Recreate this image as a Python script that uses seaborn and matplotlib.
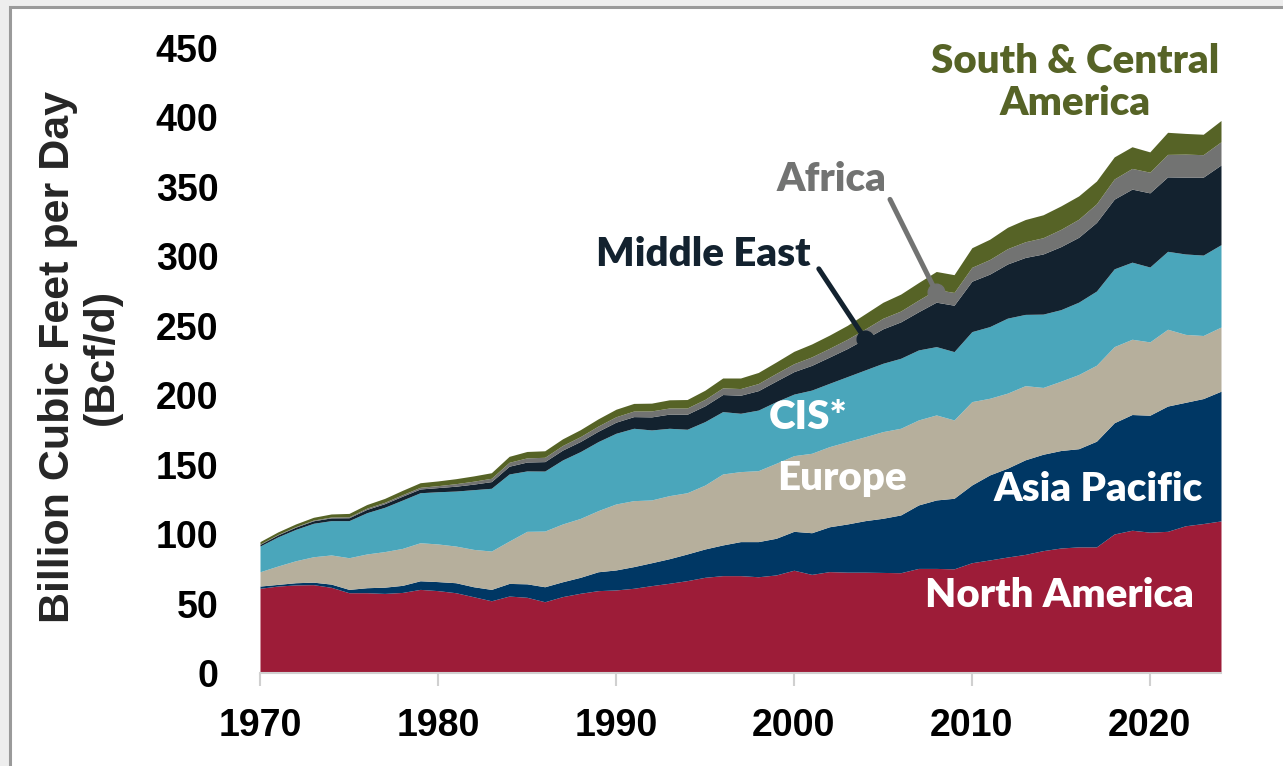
import matplotlib

matplotlib.use("Agg")
import matplotlib.pyplot as plt
from matplotlib.patches import Rectangle
import numpy as np
import pandas as pd
import seaborn as sns

# --- data (Bcf/d) ---
years = list(range(1970, 2025))

north_america = [
    61.0, 62.6, 63.4, 63.6, 61.7, 57.8, 57.8, 57.3, 58.0, 60.2,
    59.3, 57.8, 54.9, 52.0, 55.4, 54.5, 51.3, 55.0, 57.4, 59.3,
    59.8, 61.0, 62.9, 64.6, 66.5, 68.9, 70.1, 70.1, 69.3, 70.6,
    74.0, 71.0, 73.0, 72.6, 72.6, 72.4, 72.2, 75.3, 75.3, 75.0,
    79.4, 81.4, 83.5, 85.4, 88.1, 90.0, 90.8, 90.8, 100.1, 102.8,
    101.4, 102.0, 106.0, 107.6, 109.5,
]
asia_pacific = [
    1.6, 1.2, 1.6, 1.8, 2.3, 2.4, 3.6, 4.5, 5.1, 6.2,
    6.5, 7.2, 7.2, 8.2, 9.1, 9.7, 10.8, 10.7, 11.5, 13.6,
    14.4, 15.6, 16.5, 17.7, 19.2, 20.4, 22.1, 24.5, 25.3, 26.4,
    28.0, 30.0, 32.3, 34.7, 37.1, 39.0, 41.6, 45.7, 49.3, 50.8,
    56.0, 61.2, 64.0, 68.1, 69.4, 70.2, 70.7, 76.1, 80.1, 83.3,
    84.2, 90.2, 88.9, 90.0, 93.4,
]
europe = [
    10.3, 13.2, 15.8, 18.3, 21.0, 22.8, 24.3, 25.6, 26.6, 27.4,
    27.1, 26.4, 26.9, 27.6, 30.5, 37.8, 40.1, 41.6, 42.4, 44.0,
    47.5, 47.5, 45.2, 45.4, 44.1, 46.0, 51.1, 50.4, 51.1, 54.0,
    54.5, 57.2, 57.7, 59.3, 60.4, 62.4, 62.4, 61.2, 61.2, 56.4,
    60.0, 55.2, 54.0, 53.4, 48.1, 49.9, 53.4, 54.7, 54.8, 54.2,
    52.8, 55.3, 48.9, 45.4, 46.2,
]
cis = [
    18.5, 21.0, 22.6, 24.1, 24.7, 26.7, 29.7, 31.9, 34.8, 36.0,
    37.6, 39.6, 43.0, 45.2, 48.3, 43.5, 43.2, 46.1, 48.1, 49.7,
    50.9, 52.1, 50.4, 48.5, 45.7, 45.7, 44.9, 42.0, 43.6, 44.4,
    44.3, 45.5, 45.6, 46.8, 48.1, 49.2, 50.4, 50.4, 49.2, 49.2,
    50.4, 51.6, 54.0, 51.3, 52.8, 51.5, 52.1, 53.4, 56.0, 55.5,
    53.9, 56.1, 57.9, 57.9, 59.3,
]
middle_east = [
    1.2, 1.4, 1.6, 1.8, 2.0, 2.1, 2.4, 2.6, 2.8, 2.7,
    3.0, 3.5, 4.0, 4.8, 5.6, 6.4, 6.8, 7.1, 7.3, 7.5,
    8.0, 8.4, 9.4, 10.2, 10.8, 11.4, 12.3, 13.0, 14.0, 14.8,
    16.2, 17.8, 18.9, 20.2, 22.4, 24.8, 26.2, 27.5, 32.0, 33.4,
    36.3, 37.8, 39.0, 41.0, 43.3, 45.4, 46.7, 49.4, 50.2, 52.6,
    53.4, 53.6, 55.3, 56.1, 57.4,
]
africa = [
    0.3, 0.35, 0.4, 0.5, 0.6, 0.7, 0.9, 1.0, 1.1, 1.2,
    1.4, 1.8, 2.1, 2.4, 2.8, 3.0, 3.1, 3.3, 3.5, 3.7,
    3.9, 4.0, 4.3, 4.4, 4.5, 4.6, 4.8, 4.8, 5.1, 5.5,
    5.7, 6.1, 6.3, 6.7, 7.1, 7.6, 7.8, 8.4, 9.1, 9.2,
    10.0, 10.5, 11.0, 11.3, 11.7, 12.4, 13.0, 13.4, 14.5, 14.9,
    14.9, 16.2, 16.6, 16.2, 16.7,
]
south_central_america = [
    1.7, 1.8, 1.9, 2.0, 2.2, 2.4, 2.6, 2.8, 3.1, 3.3,
    3.4, 3.6, 3.8, 4.0, 4.3, 4.6, 4.7, 4.8, 5.0, 5.2,
    5.4, 5.5, 5.6, 5.9, 6.1, 6.6, 7.1, 7.6, 8.0, 8.2,
    8.9, 9.3, 9.5, 10.0, 10.9, 11.5, 12.2, 12.6, 13.0, 12.8,
    14.1, 14.6, 15.4, 16.0, 16.5, 16.9, 16.8, 16.4, 15.9, 15.6,
    14.6, 15.9, 14.9, 14.7, 15.3,
]

regions = ["North America", "Asia Pacific", "Europe", "CIS*",
           "Middle East", "Africa", "South & Central America"]
colors = ["#9D1C38", "#003764", "#B6AF9C", "#4AA6BB",
          "#13222F", "#727372", "#566326"]

df = pd.DataFrame(
    {
        "North America": north_america,
        "Asia Pacific": asia_pacific,
        "Europe": europe,
        "CIS*": cis,
        "Middle East": middle_east,
        "Africa": africa,
        "South & Central America": south_central_america,
    },
    index=years,
)

sns.set_theme(style="white")
plt.rcParams["font.family"] = ["Liberation Sans", "DejaVu Sans"]

fig = plt.figure(figsize=(12.83, 7.66), dpi=100)
fig.patch.set_facecolor("#eeeeee")
fig.add_artist(Rectangle((10 / 1283, -0.02), 1.0, 0.02 + (766 - 7) / 766,
                         transform=fig.transFigure, facecolor="white",
                         edgecolor="#9a9a9a", lw=2.2, zorder=0))

ax = fig.add_axes([260 / 1283, 1 - 673 / 766, 961 / 1283, (673 - 48) / 766])
ax.set_facecolor("none")
ax.stackplot(df.index, [df[r] for r in regions], colors=colors, lw=0)

ax.set_xlim(1970, 2024)
ax.set_ylim(0, 450)
ax.set_xticks(range(1970, 2021, 10))
ax.set_yticks(range(0, 451, 50))
ax.tick_params(axis="y", length=0, pad=30, labelsize=27)
ax.tick_params(axis="x", length=9, width=1.5, color="#d0d0d0", pad=16,
               labelsize=27, bottom=True)
for lab in ax.get_xticklabels() + ax.get_yticklabels():
    lab.set_fontweight("bold")
    lab.set_color("black")
sns.despine(ax=ax, left=True)
ax.spines["bottom"].set_color("#d0d0d0")
ax.spines["bottom"].set_linewidth(1.5)
ax.grid(False)

fig.text(80 / 1283, 1 - 357 / 766, "Billion Cubic Feet per Day\n(Bcf/d)",
         rotation=90, ha="center", va="center", ma="center",
         fontsize=31, fontweight="bold", linespacing=1.12)

lab_font = ["Lato", "DejaVu Sans"]
lab_kw = dict(ha="center", va="center", fontsize=29, fontweight="heavy",
              family=lab_font)
ax.text(2014.9, 56, "North America", color="white", **lab_kw)
ax.text(2017.1, 132, "Asia Pacific", color="white", **lab_kw)
ax.text(2002.7, 140, "Europe", color="white", **lab_kw)
ax.text(2000.8, 184, "CIS*", color="white", **lab_kw)
ax.text(1994.9, 301, "Middle East", color=colors[4], **lab_kw)
ax.text(2002.1, 355, "Africa", color=colors[5], **lab_kw)
ax.text(2015.8, 425, "South & Central\nAmerica", color=colors[6],
        linespacing=1.15, **lab_kw)

# leader lines with dots
cum = df[regions].cumsum(axis=1)
me_pt = (2004, cum.loc[2004, "Middle East"])
af_pt = (2008, cum.loc[2008, "Africa"] - 2)
ax.annotate("", xy=me_pt, xytext=(2001.4, 291),
            arrowprops=dict(arrowstyle="-", lw=3.6, color=colors[4],
                            shrinkA=0, shrinkB=0))
ax.plot(*me_pt, "o", ms=12, color=colors[4])
ax.annotate("", xy=af_pt, xytext=(2005.4, 341),
            arrowprops=dict(arrowstyle="-", lw=3.6, color=colors[5],
                            shrinkA=0, shrinkB=0))
ax.plot(*af_pt, "o", ms=12, color=colors[5])

fig.savefig("out.png", dpi=100, facecolor=fig.get_facecolor())
